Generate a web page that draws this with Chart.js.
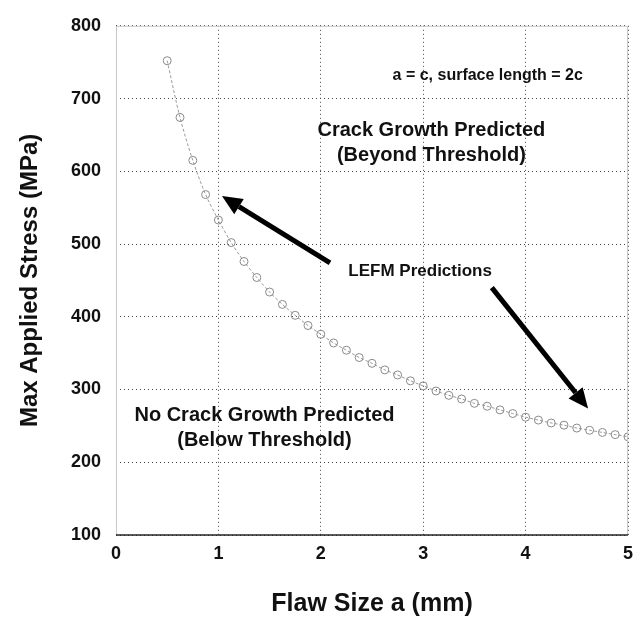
<!DOCTYPE html>
<html>
<head>
<meta charset="utf-8">
<script src="https://cdn.jsdelivr.net/npm/chart.js@4"></script>
<style>
  html, body { margin: 0; padding: 0; background: #fff; }
  #wrap { width: 643px; height: 619px; }
</style>
</head>
<body>
<div id="wrap"><canvas id="chart" width="643" height="619"></canvas></div>
<script>
// flaw size (mm) and max applied stress (MPa)
const flawSize = [0.5, 0.625, 0.75, 0.875, 1.0, 1.125, 1.25, 1.375, 1.5, 1.625, 1.75, 1.875,
    2.0, 2.125, 2.25, 2.375, 2.5, 2.625, 2.75, 2.875, 3.0, 3.125, 3.25, 3.375, 3.5, 3.625,
    3.75, 3.875, 4.0, 4.125, 4.25, 4.375, 4.5, 4.625, 4.75, 4.875, 5.0];
const maxStress = [752, 674, 615, 568, 533, 502, 476, 454, 434, 417, 402, 388,
    376, 364, 354, 344, 336, 327, 320, 312, 305, 298, 292, 287, 281, 277,
    272, 267, 262, 258, 254, 251, 247, 244, 241, 238, 235];

const xTicks = [0, 1, 2, 3, 4, 5];
const yTicks = [100, 200, 300, 400, 500, 600, 700, 800];

// annotations in data units
const notes = [
    { text: 'a = c, surface length = 2c', x: 3.63, y: 732, size: 16 },
    { text: 'Crack Growth Predicted', x: 3.08, y: 656, size: 20 },
    { text: '(Beyond Threshold)', x: 3.08, y: 622, size: 20 },
    { text: 'LEFM Predictions', x: 2.97, y: 463, size: 17 },
    { text: 'No Crack Growth Predicted', x: 1.45, y: 264, size: 20 },
    { text: '(Below Threshold)', x: 1.45, y: 230, size: 20 }
];
const arrows = [
    { from: [2.09, 474], to: [1.035, 566] },
    { from: [3.67, 440], to: [4.61, 274] }
];

const FONT = '"Liberation Sans", Arial, sans-serif';

const annotate = {
    id: 'annotate',
    afterDatasetsDraw(chart) {
        const { ctx, scales: { x, y }, chartArea: a } = chart;
        ctx.save();
        // frame: light top/right/left, dark bottom
        ctx.strokeStyle = '#c8c8c8';
        ctx.lineWidth = 1;
        ctx.setLineDash([]);
        ctx.beginPath();
        ctx.moveTo(a.left + 0.5, a.bottom);
        ctx.lineTo(a.left + 0.5, a.top + 0.5);
        ctx.lineTo(a.right - 0.5, a.top + 0.5);
        ctx.lineTo(a.right - 0.5, a.bottom);
        ctx.stroke();
        ctx.strokeStyle = '#222';
        ctx.lineWidth = 1.5;
        ctx.beginPath();
        ctx.moveTo(a.left, a.bottom);
        ctx.lineTo(a.right, a.bottom);
        ctx.stroke();

        ctx.fillStyle = '#111';
        ctx.textAlign = 'center';
        ctx.textBaseline = 'middle';
        notes.forEach(n => {
            ctx.font = 'bold ' + n.size + 'px ' + FONT;
            ctx.fillText(n.text, x.getPixelForValue(n.x), y.getPixelForValue(n.y));
        });

        arrows.forEach(ar => {
            const x0 = x.getPixelForValue(ar.from[0]), y0 = y.getPixelForValue(ar.from[1]);
            const x1 = x.getPixelForValue(ar.to[0]), y1 = y.getPixelForValue(ar.to[1]);
            const ang = Math.atan2(y1 - y0, x1 - x0);
            const hl = 20, hw = 9;
            const bx = x1 - hl * Math.cos(ang), by = y1 - hl * Math.sin(ang);
            ctx.strokeStyle = '#000';
            ctx.lineWidth = 5;
            ctx.beginPath();
            ctx.moveTo(x0, y0);
            ctx.lineTo(bx, by);
            ctx.stroke();
            ctx.fillStyle = '#000';
            ctx.beginPath();
            ctx.moveTo(x1, y1);
            ctx.lineTo(bx + hw * Math.sin(ang), by - hw * Math.cos(ang));
            ctx.lineTo(bx - hw * Math.sin(ang), by + hw * Math.cos(ang));
            ctx.closePath();
            ctx.fill();
        });
        ctx.restore();
    }
};

new Chart(document.getElementById('chart'), {
    type: 'line',
    data: {
        datasets: [{
            data: flawSize.map((v, i) => ({ x: v, y: maxStress[i] })),
            borderColor: '#9a9a9a',
            borderWidth: 1,
            borderDash: [3, 2],
            pointStyle: 'circle',
            pointRadius: 4,
            pointBorderColor: '#8a8a8a',
            pointBorderWidth: 1,
            pointBackgroundColor: 'rgba(255,255,255,0)',
            tension: 0.3,
            fill: false
        }]
    },
    options: {
        responsive: false,
        animation: false,
        layout: { padding: { top: 20, right: 15, left: 0, bottom: 0 } },
        plugins: { legend: { display: false }, tooltip: { enabled: false } },
        scales: {
            x: {
                type: 'linear',
                min: 0, max: 5,
                afterBuildTicks: s => { s.ticks = xTicks.map(v => ({ value: v })); },
                afterFit: s => { s.height = 84; },
                grid: { color: '#444', lineWidth: 1, drawTicks: false },
                border: { display: false, dash: [1, 3] },
                ticks: { color: '#111', padding: 8, font: { family: FONT, size: 18, weight: 'bold' } },
                title: {
                    display: true, text: 'Flaw Size a (mm)', color: '#111',
                    font: { family: FONT, size: 25, weight: 'bold' },
                    padding: { top: 0, bottom: 0 }
                }
            },
            y: {
                type: 'linear',
                min: 100, max: 800,
                afterBuildTicks: s => { s.ticks = yTicks.map(v => ({ value: v })); },
                afterFit: s => { s.width = 116; },
                grid: { color: '#444', lineWidth: 1, drawTicks: false },
                border: { display: false, dash: [1, 3] },
                ticks: { color: '#111', padding: 15, font: { family: FONT, size: 18, weight: 'bold' } },
                title: {
                    display: true, text: 'Max Applied Stress (MPa)', color: '#111',
                    font: { family: FONT, size: 24, weight: 'bold' },
                    padding: { top: 16, bottom: 0 }
                }
            }
        }
    },
    plugins: [annotate]
});
</script>
</body>
</html>
